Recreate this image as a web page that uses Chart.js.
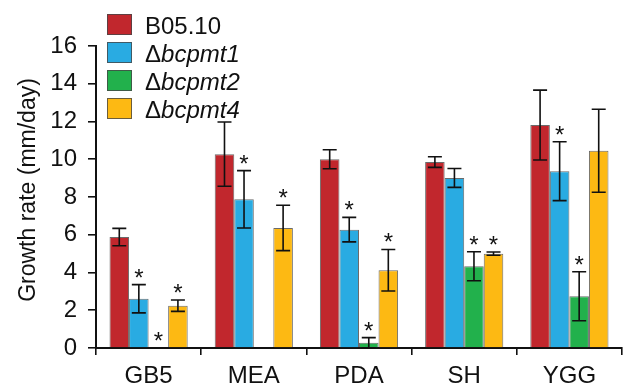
<!DOCTYPE html>
<html>
<head>
<meta charset="utf-8">
<script src="https://cdn.jsdelivr.net/npm/chart.js@4"></script>
<style>
  body { margin: 0; background: #fff; }
  #wrap { width: 626px; height: 387px; position: relative; }
</style>
</head>
<body>
<div id="wrap"><canvas id="myChart"></canvas></div>
<script>
// Data
const categories = ["GB5", "MEA", "PDA", "SH", "YGG"];
const strains = ["B05.10", "Δbcpmt1", "Δbcpmt2", "Δbcpmt4"];
const colors = ["#C1272D", "#29ABE2", "#22B14C", "#FDB913"];

const b0510 = [5.88, 10.27, 10.0, 9.85, 11.81];
const b0510Err = [0.46, 1.7, 0.5, 0.28, 1.85];
const bcpmt1 = [2.61, 7.88, 6.27, 9.01, 9.37];
const bcpmt1Err = [0.75, 1.52, 0.65, 0.5, 1.56];
const bcpmt2 = [0, null, 0.28, 4.33, 2.74];
const bcpmt2Err = [0, null, 0.27, 0.77, 1.3];
const bcpmt4 = [2.24, 6.36, 4.12, 5.0, 10.45];
const bcpmt4Err = [0.3, 1.2, 1.1, 0.09, 2.2];

// significance stars
const b0510Sig = [false, false, false, false, false];
const bcpmt1Sig = [true, true, true, false, true];
const bcpmt2Sig = [true, false, true, true, true];
const bcpmt4Sig = [true, true, true, true, false];

const yMax = 16;
const yStep = 2;
const yTitle = "Growth rate (mm/day)";

const values = [b0510, bcpmt1, bcpmt2, bcpmt4];
const errors = [b0510Err, bcpmt1Err, bcpmt2Err, bcpmt4Err];
const stars = [b0510Sig, bcpmt1Sig, bcpmt2Sig, bcpmt4Sig];

const FONT = "'Liberation Sans', Arial, sans-serif";

// error bars + asterisks
const errorBars = {
  id: "errorBars",
  afterDatasetsDraw(chart) {
    const ctx = chart.ctx;
    const y = chart.scales.y;
    ctx.save();
    ctx.strokeStyle = "#111";
    ctx.lineWidth = 1.6;
    ctx.fillStyle = "#111";
    ctx.font = "24px " + FONT;
    ctx.textAlign = "center";
    ctx.textBaseline = "alphabetic";
    values.forEach((vals, i) => {
      const meta = chart.getDatasetMeta(i);
      vals.forEach((v, j) => {
        if (v === null) return;
        const bar = meta.data[j];
        const x = bar.x;
        const e = errors[i][j] || 0;
        let top = y.getPixelForValue(v);
        if (e > 0) {
          const hi = y.getPixelForValue(v + e);
          const lo = y.getPixelForValue(Math.max(0, v - e));
          ctx.beginPath();
          ctx.moveTo(x, hi); ctx.lineTo(x, lo);
          ctx.moveTo(x - 7, hi); ctx.lineTo(x + 7, hi);
          ctx.moveTo(x - 7, lo); ctx.lineTo(x + 7, lo);
          ctx.stroke();
          top = hi;
        }
        if (stars[i][j]) {
          ctx.fillText("*", x, top + 1);
        }
      });
    });
    ctx.restore();
  }
};

// legend with upright delta and italic gene name, plus y title
const customText = {
  id: "customText",
  afterDraw(chart) {
    const ctx = chart.ctx;
    ctx.save();
    strains.forEach((name, i) => {
      const top = 14 + i * 28;
      ctx.fillStyle = colors[i];
      ctx.fillRect(107, top, 25, 21);
      ctx.strokeStyle = "rgba(70,70,70,0.8)";
      ctx.lineWidth = 1;
      ctx.strokeRect(107.5, top + 0.5, 24, 20);
      ctx.fillStyle = "#111";
      ctx.textBaseline = "alphabetic";
      ctx.textAlign = "left";
      let x = 145;
      if (name.startsWith("Δ")) {
        ctx.font = "24px " + FONT;
        ctx.fillText("Δ", x, top + 20);
        x += ctx.measureText("Δ").width;
        ctx.font = "italic 24px " + FONT;
        ctx.fillText(name.slice(1), x, top + 20);
      } else {
        ctx.font = "24px " + FONT;
        ctx.fillText(name, x, top + 20);
      }
    });
    ctx.translate(35, 190);
    ctx.rotate(-Math.PI / 2);
    ctx.font = "23px " + FONT;
    ctx.textAlign = "center";
    ctx.fillText(yTitle, 0, 0);
    ctx.restore();
  }
};

const ctx = document.getElementById("myChart").getContext("2d");
const myChart = new Chart(ctx, {
  type: "bar",
  data: {
    labels: categories,
    datasets: strains.map((name, i) => ({
      label: name,
      data: values[i],
      backgroundColor: colors[i],
      borderColor: "rgba(70,70,70,0.8)",
      borderWidth: 1,
      borderSkipped: "bottom",
      categoryPercentage: 0.743,
      barPercentage: 1.0
    }))
  },
  options: {
    responsive: true,
    maintainAspectRatio: false,
    animation: false,
    layout: { padding: { top: 46, right: 4, left: 0, bottom: 0 } },
    plugins: {
      legend: { display: false },
      tooltip: { enabled: false }
    },
    scales: {
      x: {
        afterFit(scale) { scale.height = 39; },
        grid: {
          offset: true,
          drawOnChartArea: false,
          drawTicks: true,
          tickLength: 7,
          color: "#111",
          lineWidth: 1.6
        },
        border: { display: true, color: "#111", width: 2 },
        ticks: {
          color: "#111",
          padding: 7,
          font: { family: FONT, size: 24 }
        }
      },
      y: {
        min: 0,
        max: yMax,
        afterFit(scale) { scale.width = 96; },
        grid: {
          drawOnChartArea: false,
          drawTicks: true,
          tickLength: 8,
          color: "#111",
          lineWidth: 1.6
        },
        border: { display: true, color: "#111", width: 2 },
        ticks: {
          stepSize: yStep,
          color: "#111",
          padding: 11,
          font: { family: FONT, size: 24 }
        }
      }
    }
  },
  plugins: [errorBars, customText]
});
</script>
</body>
</html>
